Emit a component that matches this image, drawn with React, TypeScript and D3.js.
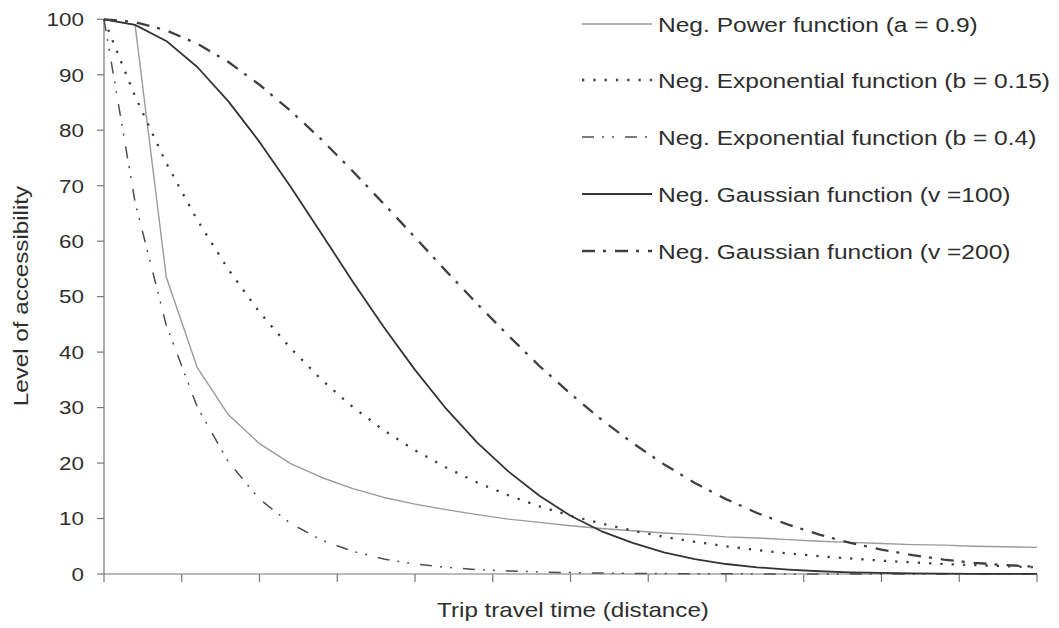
import { useEffect } from 'react'
import * as d3 from 'd3'

// distance steps on the category axis
const distances = [
  0, 1, 2, 3, 4, 5, 6, 7, 8, 9, 10, 11, 12, 13, 14, 15,
  16, 17, 18, 19, 20, 21, 22, 23, 24, 25, 26, 27, 28, 29, 30,
]

const powerA09 = [
  100, 99, 53.6, 37.2, 28.7, 23.5, 19.9, 17.4, 15.4, 13.8, 12.6, 11.6, 10.7, 9.9, 9.3, 8.7,
  8.2, 7.8, 7.4, 7.1, 6.7, 6.5, 6.2, 5.9, 5.7, 5.5, 5.3, 5.2, 5.0, 4.9, 4.8,
]
const expB015 = [
  100, 86.1, 74.1, 63.8, 54.9, 47.2, 40.7, 35.0, 30.1, 25.9, 22.3, 19.2, 16.5, 14.2, 12.2, 10.5,
  9.1, 7.8, 6.7, 5.8, 5.0, 4.3, 3.7, 3.2, 2.8, 2.4, 2.1, 1.8, 1.6, 1.4, 1.2,
]
const expB04 = [
  100, 67.0, 44.9, 30.1, 20.2, 13.5, 9.1, 6.1, 4.1, 2.7, 1.8, 1.2, 0.8, 0.55, 0.37, 0.25,
  0.17, 0.11, 0.07, 0.05, 0.03, 0.02, 0.02, 0.01, 0.01, 0, 0, 0, 0, 0, 0,
]
const gaussV100 = [
  100, 99.0, 96.1, 91.4, 85.2, 77.9, 69.8, 61.3, 52.7, 44.5, 36.8, 29.8, 23.7, 18.5, 14.1, 10.5,
  7.7, 5.6, 3.9, 2.7, 1.8, 1.2, 0.8, 0.5, 0.3, 0.2, 0.12, 0.07, 0.04, 0.02, 0.01,
]
const gaussV200 = [
  100, 99.5, 98.0, 95.6, 92.3, 88.2, 83.5, 78.3, 72.6, 66.7, 60.7, 54.6, 48.7, 43.0, 37.5, 32.5,
  27.8, 23.6, 19.8, 16.4, 13.5, 11.0, 8.9, 7.1, 5.6, 4.4, 3.4, 2.6, 2.0, 1.6, 1.3,
]

const yTicks = [0, 10, 20, 30, 40, 50, 60, 70, 80, 90, 100]
const xTicks = [0, 2.5, 5, 7.5, 10, 12.5, 15, 17.5, 20, 22.5, 25, 27.5, 30]

const seriesNames = [
  'Neg. Power function (a = 0.9)',
  'Neg. Exponential function (b = 0.15)',
  'Neg. Exponential function (b = 0.4)',
  'Neg. Gaussian function (v =100)',
  'Neg. Gaussian function (v =200)',
]
const seriesValues = [powerA09, expB015, expB04, gaussV100, gaussV200]

// line looks, same order as the series
const styles = [
  { stroke: '#9a9a9a', width: 1.4, dash: 'none' },
  { stroke: '#3f3f3f', width: 2.3, dash: '2.3,9' },
  { stroke: '#505050', width: 1.5, dash: '12,8,2,8,2,11' },
  { stroke: '#333333', width: 1.8, dash: 'none' },
  { stroke: '#404040', width: 2.3, dash: '13,8,3,9' },
]

const W = 1059
const H = 628
const FONT = '"Liberation Sans", Arial, sans-serif'
const SX = 1.18 // the scan is a bit wide, stretch text to match

export default function App() {
  useEffect(() => {
    document.body.style.margin = '0'
  }, [])

  const x = d3.scaleLinear().domain([0, 30]).range([104, 1037])
  const y = d3.scaleLinear().domain([0, 100]).range([574, 19.3])

  const line = d3
    .line<number>()
    .x((_, i) => x(distances[i]))
    .y((d) => y(d))

  const legendY = [24, 80, 137, 194, 251]

  return (
    <svg width={W} height={H} style={{ display: 'block', background: '#fff' }}>
      {/* axes */}
      <line x1={x(0)} x2={x(0)} y1={y(100)} y2={y(0)} stroke="#777" strokeWidth={1.2} />
      <line x1={x(0)} x2={x(30)} y1={y(0)} y2={y(0)} stroke="#777" strokeWidth={1.2} />
      {yTicks.map((t) => (
        <g key={'y' + t}>
          <line x1={x(0) - 7} x2={x(0)} y1={y(t)} y2={y(t)} stroke="#777" strokeWidth={1.2} />
          <g transform={`translate(84,${y(t) + 6.8}) scale(${SX},1)`}>
            <text textAnchor="end" fontFamily={FONT} fontSize={19} fill="#2e2e2e">
              {t}
            </text>
          </g>
        </g>
      ))}
      {xTicks.map((t) => (
        <line key={'x' + t} x1={x(t)} x2={x(t)} y1={y(0)} y2={y(0) + 8} stroke="#777" strokeWidth={1.2} />
      ))}

      {/* curves */}
      {seriesValues.map((vals, i) => (
        <path
          key={seriesNames[i]}
          d={line(vals) || ''}
          fill="none"
          stroke={styles[i].stroke}
          strokeWidth={styles[i].width}
          strokeDasharray={styles[i].dash}
          strokeLinejoin="round"
        />
      ))}

      {/* legend */}
      {seriesNames.map((name, i) => (
        <g key={'lg' + i}>
          <line
            x1={582}
            x2={652}
            y1={legendY[i]}
            y2={legendY[i]}
            stroke={styles[i].stroke}
            strokeWidth={styles[i].width}
            strokeDasharray={styles[i].dash}
          />
          <g transform={`translate(658,${legendY[i] + 7.5}) scale(${SX},1)`}>
            <text fontFamily={FONT} fontSize={20.8} fill="#2e2e2e">
              {name}
            </text>
          </g>
        </g>
      ))}

      {/* axis titles */}
      <g transform={`translate(573,617) scale(${SX},1)`}>
        <text textAnchor="middle" fontFamily={FONT} fontSize={20.5} fill="#2e2e2e">
          Trip travel time (distance)
        </text>
      </g>
      <g transform={`translate(28,296) rotate(-90) scale(${SX},1)`}>
        <text textAnchor="middle" fontFamily={FONT} fontSize={20.5} fill="#2e2e2e">
          Level of accessibility
        </text>
      </g>
    </svg>
  )
}
